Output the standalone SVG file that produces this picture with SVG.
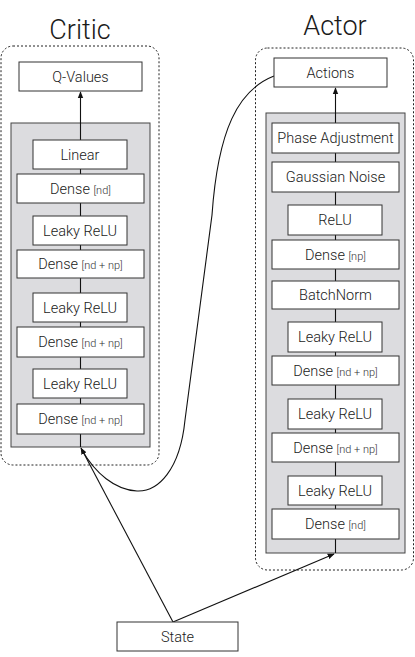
<svg xmlns="http://www.w3.org/2000/svg" width="415" height="657" viewBox="0 0 415 657">
<style>
text{font-family:Roboto,"Liberation Sans",sans-serif;font-weight:300;fill:#1a1a1a;text-anchor:middle}
.t{font-size:27px}
.l{font-size:14.5px}
.s{font-size:11px;fill:#333}
.b{fill:#fff;stroke:#333;stroke-width:1}
.g{fill:#dcdcdf;stroke:#444;stroke-width:1}
.d{fill:none;stroke:#222;stroke-width:1;stroke-dasharray:2,2}
.c{fill:none;stroke:#111;stroke-width:1.1}
</style>
<defs>
<marker id="ah" viewBox="0 0 10 10" refX="9" refY="5" markerWidth="7" markerHeight="7" orient="auto-start-reverse" markerUnits="userSpaceOnUse">
<path d="M0,1 L10,5 L0,9 z" fill="#111"/>
</marker>
</defs>
<g id="critic-frame">
<text class="t" x="80" y="39">Critic</text>
<rect class="d" x="1" y="46" width="158" height="419" rx="12"/>
<rect class="g" x="11" y="123" width="139" height="324"/>
</g>
<g id="actor-frame">
<text class="t" x="335" y="35">Actor</text>
<rect class="d" x="255.5" y="48" width="158" height="522" rx="12"/>
<rect class="g" x="266" y="113" width="139" height="440"/>
</g>
<g id="connectors">
<line class="c" x1="80.5" y1="447" x2="80.5" y2="92" marker-end="url(#ah)"/>
<line class="c" x1="335.5" y1="553" x2="335.5" y2="88" marker-end="url(#ah)"/>
<line class="c" x1="173" y1="622" x2="81" y2="448" marker-end="url(#ah)"/>
<line class="c" x1="173" y1="622" x2="334" y2="554" marker-end="url(#ah)"/>
<path class="c" d="M274,76 C238,90 218,130 212,215 L185,420 C180,470 158,492 137,491 C115,490 95,473 82,450"/>
</g>
<g id="q-values"><rect class="b" x="19" y="62" width="123" height="29"/><text class="l" x="80.5" y="81.5">Q-Values</text></g>
<g id="c-linear"><rect class="b" x="33" y="140" width="94" height="29"/><text class="l" x="80" y="159.5">Linear</text></g>
<g id="c-dense1"><rect class="b" x="17" y="174" width="127" height="29"/><text class="l" x="80.5" y="193.5">Dense <tspan class="s">[nd]</tspan></text></g>
<g id="c-lrelu1"><rect class="b" x="33" y="216" width="94" height="29"/><text class="l" x="80" y="235.5">Leaky ReLU</text></g>
<g id="c-dense2"><rect class="b" x="17" y="250" width="127" height="28"/><text class="l" x="80.5" y="269">Dense <tspan class="s">[nd + np]</tspan></text></g>
<g id="c-lrelu2"><rect class="b" x="33" y="293" width="94" height="29"/><text class="l" x="80" y="312.5">Leaky ReLU</text></g>
<g id="c-dense3"><rect class="b" x="17" y="327" width="127" height="30"/><text class="l" x="80.5" y="347">Dense <tspan class="s">[nd + np]</tspan></text></g>
<g id="c-lrelu3"><rect class="b" x="33" y="369" width="94" height="29"/><text class="l" x="80" y="388.5">Leaky ReLU</text></g>
<g id="c-dense4"><rect class="b" x="17" y="404" width="127" height="30"/><text class="l" x="80.5" y="424">Dense <tspan class="s">[nd + np]</tspan></text></g>
<g id="actions"><rect class="b" x="274" y="58" width="113" height="29"/><text class="l" x="330.5" y="77.5">Actions</text></g>
<g id="a-phase"><rect class="b" x="272" y="123" width="127" height="30"/><text class="l" x="335.5" y="143">Phase Adjustment</text></g>
<g id="a-noise"><rect class="b" x="272" y="162" width="127" height="30"/><text class="l" x="335.5" y="182">Gaussian Noise</text></g>
<g id="a-relu"><rect class="b" x="288" y="205" width="94" height="30"/><text class="l" x="335" y="225">ReLU</text></g>
<g id="a-dense1"><rect class="b" x="272" y="240" width="127" height="29"/><text class="l" x="335.5" y="259.5">Dense <tspan class="s">[np]</tspan></text></g>
<g id="a-batchnorm"><rect class="b" x="272" y="281" width="127" height="28"/><text class="l" x="335.5" y="300">BatchNorm</text></g>
<g id="a-lrelu1"><rect class="b" x="288" y="322" width="94" height="30"/><text class="l" x="335" y="342">Leaky ReLU</text></g>
<g id="a-dense2"><rect class="b" x="272" y="356" width="127" height="29"/><text class="l" x="335.5" y="375.5">Dense <tspan class="s">[nd + np]</tspan></text></g>
<g id="a-lrelu2"><rect class="b" x="288" y="399" width="94" height="30"/><text class="l" x="335" y="419">Leaky ReLU</text></g>
<g id="a-dense3"><rect class="b" x="272" y="433" width="127" height="29"/><text class="l" x="335.5" y="452.5">Dense <tspan class="s">[nd + np]</tspan></text></g>
<g id="a-lrelu3"><rect class="b" x="288" y="476" width="94" height="29"/><text class="l" x="335" y="495.5">Leaky ReLU</text></g>
<g id="a-dense4"><rect class="b" x="272" y="509" width="127" height="30"/><text class="l" x="335.5" y="529">Dense <tspan class="s">[nd]</tspan></text></g>
<g id="state"><rect class="b" x="117" y="622" width="121" height="29"/><text class="l" x="177.5" y="641.5">State</text></g>
</svg>
